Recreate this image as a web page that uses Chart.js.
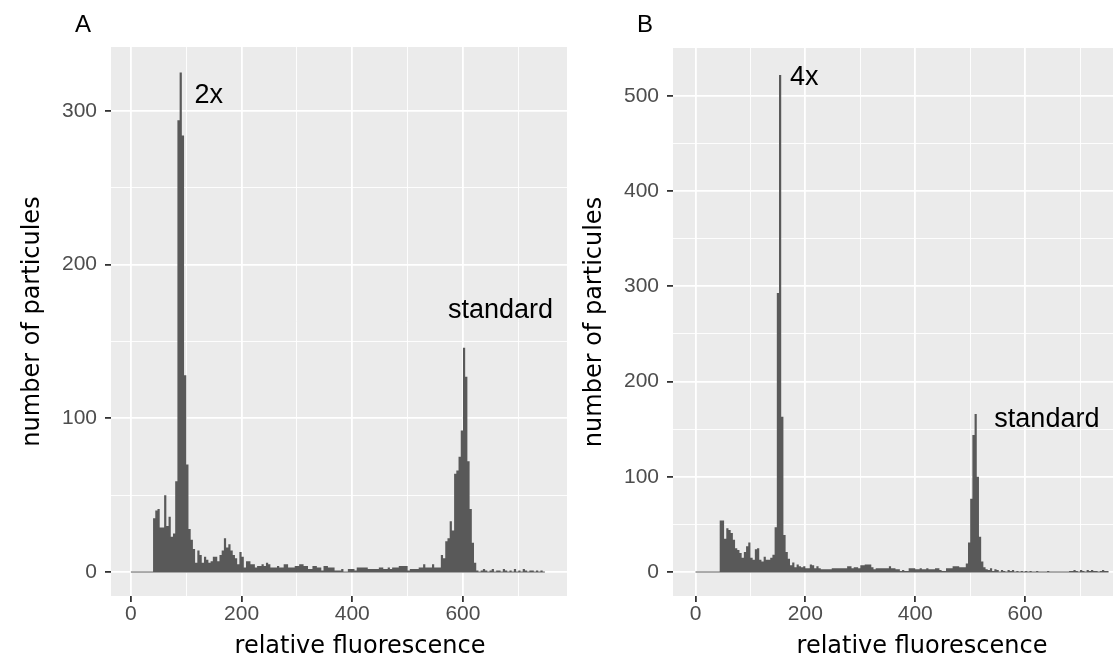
<!DOCTYPE html>
<html>
<head>
<meta charset="utf-8">
<script src="https://cdn.jsdelivr.net/npm/chart.js@4.4.1/dist/chart.umd.min.js"></script>
<style>
html,body{margin:0;padding:0;background:#fff;}
#wrap{position:relative;width:1118px;height:666px;overflow:hidden;background:#fff;}
canvas{position:absolute;top:0;}
#cA{left:0;}
#cB{left:559px;}
</style>
</head>
<body>
<div id="wrap">
<canvas id="cA" width="580" height="666" style="width:580px;height:666px"></canvas>
<canvas id="cB" width="559" height="666" style="width:559px;height:666px"></canvas>
</div>
<script>
// ---------- data (histogram counts, bin width 4, bins starting at 0) ----------
const binWidth = 4;
const binStart = 0;

// Panel A: counts per bin, bins 0-4, 4-8, ... (relative fluorescence)
const countsA = [
  0,0,0,0,0,0,0,0,0,0,
  35,40,41,29,29,50,30,36,23,25,
  59,294,325,284,128,70,28,21,15,6,
  14,11,6,10,8,6,7,10,10,7,
  11,14,22,16,18,14,11,9,5,13,
  10,3,7,7,5,5,3,4,4,5,
  4,6,5,3,3,3,4,3,3,5,
  5,3,3,3,4,4,5,5,4,4,
  2,2,4,4,3,3,1,4,4,3,
  3,3,1,1,1,2,0,0,2,2,
  2,1,3,3,3,3,3,2,2,2,
  2,2,3,3,2,2,3,2,3,3,
  3,4,4,4,4,1,2,2,2,2,
  3,3,5,3,3,3,5,3,3,3,
  11,9,20,22,33,27,64,66,75,92,
  146,127,72,41,19,6,1,0,1,2,
  1,0,1,2,0,1,1,0,2,1,
  0,1,0,2,0,1,0,2,1,0,
  1,1,0,1,0,1,0
];

// Panel B: counts per bin
const countsB = [
  0,0,0,0,0,0,0,0,0,0,
  0,54,54,35,46,44,41,34,25,23,
  20,15,21,27,31,15,13,24,25,13,
  11,16,13,13,15,18,47,293,522,163,
  39,21,14,7,10,5,8,6,5,6,
  4,4,8,7,4,6,4,3,3,3,
  3,3,4,4,4,4,4,4,4,6,
  6,4,5,5,4,7,7,8,8,8,
  5,3,4,4,4,4,4,4,6,4,
  4,3,3,1,2,1,1,4,4,4,
  3,3,4,3,3,4,3,3,3,4,
  4,2,1,1,4,4,4,6,6,6,
  5,5,5,9,31,77,144,166,100,37,
  11,5,3,2,4,1,3,2,0,2,
  1,0,2,1,2,0,1,0,1,0,
  1,0,1,0,0,1,0,0,0,0,
  1,0,0,0,0,0,0,0,0,0,
  1,1,2,1,0,2,1,0,2,1,
  2,1,1,0,1,2,1,1
];

// tick values (grid) and labelled ticks
const xGridTicks = [0,100,200,300,400,500,600,700];
const xLabelTicks = [0,200,400,600];
const yGridTicksA = [0,50,100,150,200,250,300];
const yLabelTicksA = [0,100,200,300];
const yGridTicksB = [0,50,100,150,200,250,300,350,400,450,500];
const yLabelTicksB = [0,100,200,300,400,500];

// peak annotations [relative fluorescence, count, text]
const notesA = [
  {x: 115, y: 310, text: '2x'},
  {x: 573, y: 170, text: 'standard'}
];
const notesB = [
  {x: 172, y: 519, text: '4x'},
  {x: 544, y: 160, text: 'standard'}
];

const xTitle = 'relative fluorescence';
const yTitle = 'number of particules';

// ---------- styling ----------
const TICK_FONT = {family: '"Liberation Sans", Arial, Helvetica, sans-serif', size: 21, lineHeight: 1};
const TITLE_FAMILY = '"DejaVu Sans", Verdana, sans-serif';
const BAR = '#595959';
const PANEL = '#EBEBEB';

const isMajor = (c, list) => !!(c && c.tick && list.includes(c.tick.value));

const panelBg = {
  id: 'panelBg',
  beforeDraw(chart) {
    const {ctx, chartArea: a} = chart;
    ctx.save();
    ctx.fillStyle = PANEL;
    ctx.fillRect(a.left, a.top, a.right - a.left, a.bottom - a.top);
    ctx.restore();
  }
};

const extraText = {
  id: 'extraText',
  afterDatasetsDraw(chart, args, opts) {
    const {ctx, scales: {x, y}} = chart;
    ctx.save();
    ctx.fillStyle = '#000';
    ctx.textBaseline = 'middle';
    ctx.textAlign = 'left';
    ctx.font = '27px "Liberation Sans", Arial, sans-serif';
    opts.notes.forEach(n => ctx.fillText(n.text, x.getPixelForValue(n.x), y.getPixelForValue(n.y)));
    // panel tag
    ctx.font = '24px "Liberation Sans", Arial, sans-serif';
    ctx.fillText(opts.tag, opts.tagX, 25);
    // x-axis title
    ctx.textAlign = 'center';
    ctx.font = '24px ' + TITLE_FAMILY;
    ctx.fillText(xTitle, opts.xTitleX, 647);
    ctx.restore();
  }
};

function makeChart(id, counts, cfg) {
  // histogram drawn as a stepped, filled outline: one point per bin left edge
  const steps = counts.map((c, i) => ({x: binStart + i * binWidth, y: c}));
  steps.push({x: binStart + counts.length * binWidth, y: counts[counts.length - 1]});
  const base = [{x: binStart, y: 0}, {x: binStart + counts.length * binWidth, y: 0}];
  return new Chart(document.getElementById(id), {
    type: 'line',
    data: {
      datasets: [
        {label: 'count', data: steps, stepped: 'before', fill: 'origin',
         backgroundColor: BAR, borderColor: 'rgba(0,0,0,0)', borderWidth: 0,
         pointRadius: 0, order: 1},
        {label: 'baseline', data: base, borderColor: BAR, borderWidth: 1,
         pointRadius: 0, fill: false, order: 2}
      ]
    },
    options: {
      responsive: false,
      animation: false,
      events: [],
      layout: {padding: {top: cfg.top, right: cfg.right, bottom: 0, left: 0}},
      plugins: {
        legend: {display: false},
        tooltip: {enabled: false},
        extraText: {notes: cfg.notes, tag: cfg.tag, tagX: cfg.tagX, xTitleX: cfg.xTitleX}
      },
      scales: {
        x: {
          type: 'linear', min: cfg.xmin, max: cfg.xmax, offset: false,
          afterBuildTicks: s => { s.ticks = xGridTicks.map(v => ({value: v})); },
          afterFit: s => { s.height = 70; },
          border: {display: false},
          grid: {
            offset: false,
            color: '#FFFFFF',
            lineWidth: c => isMajor(c, xLabelTicks) ? 1.8 : 0.9,
            tickColor: c => isMajor(c, xLabelTicks) ? '#333333' : 'rgba(0,0,0,0)',
            tickLength: 6, tickWidth: 1.8
          },
          ticks: {
            color: '#4D4D4D', font: TICK_FONT, padding: 2, maxRotation: 0, autoSkip: false,
            callback: v => xLabelTicks.includes(v) ? String(v) : ''
          },
          title: {display: false}
        },
        y: {
          type: 'linear', min: cfg.ymin, max: cfg.ymax,
          afterBuildTicks: s => { s.ticks = cfg.yGrid.map(v => ({value: v})); },
          afterFit: s => { s.width = cfg.yWidth; },
          border: {display: false},
          grid: {
            offset: false,
            color: '#FFFFFF',
            lineWidth: c => isMajor(c, cfg.yLab) ? 1.8 : 0.9,
            tickColor: c => isMajor(c, cfg.yLab) ? '#333333' : 'rgba(0,0,0,0)',
            tickLength: 6, tickWidth: 1.8
          },
          ticks: {
            color: '#4D4D4D', font: TICK_FONT, padding: 8, autoSkip: false,
            callback: v => cfg.yLab.includes(v) ? String(v) : ''
          },
          title: {
            display: true, text: yTitle, color: '#000',
            font: {family: TITLE_FAMILY, size: 24, lineHeight: 1.2},
            padding: {top: cfg.yTitlePad, bottom: 0}
          }
        }
      }
    },
    plugins: [panelBg, extraText]
  });
}

makeChart('cA', countsA, {
  top: 47, right: 13, yWidth: 111,
  xmin: -36, xmax: 788, ymin: -15.6, ymax: 341.6,
  yGrid: yGridTicksA, yLab: yLabelTicksA,
  notes: notesA, tag: 'A', tagX: 75, xTitleX: 360, yTitlePad: 18.6
});
makeChart('cB', countsB, {
  top: 48, right: 5, yWidth: 114,
  xmin: -41, xmax: 760, ymin: -25.2, ymax: 550.4,
  yGrid: yGridTicksB, yLab: yLabelTicksB,
  notes: notesB, tag: 'B', tagX: 78, xTitleX: 363, yTitlePad: 21.6
});
</script>
</body>
</html>
